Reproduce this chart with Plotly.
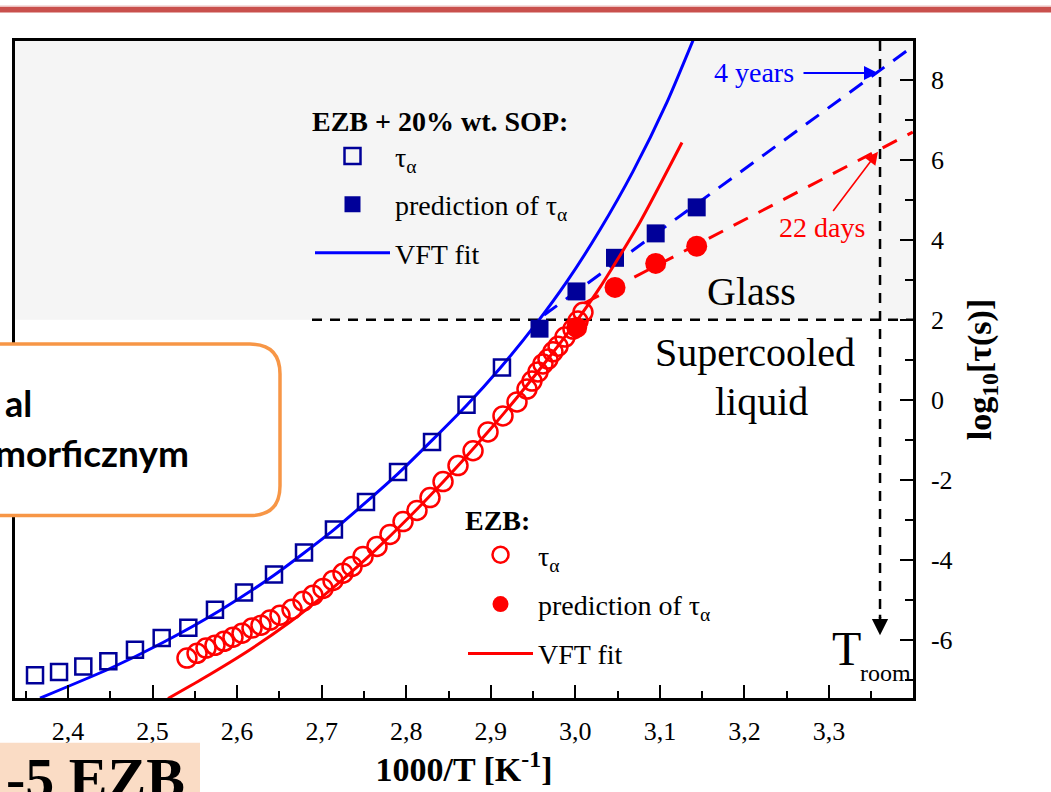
import plotly.graph_objects as go

# ---------------- data ----------------
# EZB + 20% wt. SOP
sop_tau_x = [2.361, 2.3894, 2.4181, 2.4477, 2.4792, 2.5108, 2.5423, 2.5738, 2.6081,
             2.6436, 2.6791, 2.7145, 2.7524, 2.7903, 2.8305, 2.8713, 2.9132]
sop_tau_y = [-6.88, -6.80, -6.66, -6.53, -6.24, -5.95, -5.69, -5.24, -4.81,
             -4.36, -3.81, -3.24, -2.55, -1.80, -1.05, -0.12, 0.81]
sop_pred_x = [2.9576, 3.0013, 3.0469, 3.0950, 3.1435]
sop_pred_y = [1.78, 2.71, 3.55, 4.16, 4.81]
sop_vft_x = [2.3669, 2.4497, 2.5123, 2.5797, 2.6436, 2.7146, 2.7903, 2.8707,
             2.9109, 2.9546, 2.9901, 3.0291, 3.0682, 3.1084, 3.1403]
sop_vft_y = [-7.45, -6.71, -6.06, -5.26, -4.38, -3.24, -1.84, -0.15,
             0.79, 1.93, 2.96, 4.25, 5.71, 7.44, 9.04]
sop_extrap_x = [2.963, 3.399]
sop_extrap_y = [2.12, 8.83]

# EZB
ezb_tau_x = [2.5407, 2.5526, 2.5632, 2.5738, 2.5845, 2.5951, 2.6058, 2.6176, 2.6282,
             2.6389, 2.6507, 2.6649, 2.6779, 2.6897, 2.7016, 2.7134, 2.7252, 2.7359,
             2.7489, 2.7654, 2.7808, 2.7962, 2.8127, 2.8281, 2.8435, 2.8612, 2.8790,
             2.8967, 2.9144, 2.9310, 2.9428, 2.9487, 2.9558, 2.9617, 2.9676, 2.9735,
             2.9795, 2.9877, 2.9972, 3.0031, 3.0090]
ezb_tau_y = [-6.45, -6.33, -6.20, -6.13, -6.03, -5.93, -5.83, -5.70, -5.63,
             -5.50, -5.38, -5.23, -5.03, -4.88, -4.71, -4.51, -4.33, -4.16,
             -3.91, -3.66, -3.36, -3.04, -2.76, -2.44, -2.04, -1.64, -1.27,
             -0.80, -0.40, -0.05, 0.27, 0.47, 0.70, 0.90, 1.02, 1.20,
             1.34, 1.57, 1.77, 1.97, 2.19]
ezb_pred_x = [3.0016, 3.0469, 3.0950, 3.1435]
ezb_pred_y = [1.81, 2.81, 3.41, 3.84]
ezb_vft_x = [2.5183, 2.5596, 2.6152, 2.6625, 2.7016, 2.7335, 2.7725, 2.8127, 2.8435,
             2.8671, 2.8991, 2.9310, 2.9700, 3.0031, 3.0291, 3.0764, 3.1261]
ezb_vft_y = [-7.46, -6.96, -6.24, -5.55, -4.90, -4.33, -3.57, -2.73, -2.05,
             -1.51, -0.74, 0.06, 1.09, 2.02, 2.81, 4.44, 6.43]
ezb_extrap_x = [3.011, 3.399]
ezb_extrap_y = [2.42, 6.69]

x_tickvals = [2.4, 2.5, 2.6, 2.7, 2.8, 2.9, 3.0, 3.1, 3.2, 3.3]
x_ticktext = ["2,4", "2,5", "2,6", "2,7", "2,8", "2,9", "3,0", "3,1", "3,2", "3,3"]
y_tickvals = [-6, -4, -2, 0, 2, 4, 6, 8]
y_ticktext = ["-6", "-4", "-2", "0", "2", "4", "6", "8"]

glass_level = 2          # log10(tau) = 2 boundary
t_room_x = 3.3603        # 1000/T at room temperature

# ---------------- styling / geometry helpers ----------------
SERIF = "Liberation Serif, Times New Roman, serif"
BLUE = "#0000ff"
NAVY = "#000099"
RED = "#ff0000"

W, H = 1051, 792
ML, MR, MT, MB = 15, 138, 41, 92
PL, PR, PT, PB = ML, W - MR, MT, H - MB


def px2x(px):
    return 2.4 + (px - 68) / 845.6


def py2y(py):
    return (401 - py) / 40.15


def ppx(px):
    return (px - PL) / (PR - PL)


def ppy(py):
    return (PB - py) / (PB - PT)


x_range = [px2x(PL), px2x(PR)]
y_range = [py2y(PB), py2y(PT)]

fig = go.Figure()

# ---- SOP traces ----
fig.add_trace(go.Scatter(x=sop_vft_x, y=sop_vft_y, mode="lines", name="VFT fit",
                         line=dict(color=BLUE, width=3, shape="spline", smoothing=0.6),
                         legend="legend", legendgroup="s3", legendrank=3))
fig.add_trace(go.Scatter(x=sop_extrap_x, y=sop_extrap_y, mode="lines", showlegend=False,
                         line=dict(color=BLUE, width=3, dash="16px,11px")))
fig.add_trace(go.Scatter(x=sop_tau_x, y=sop_tau_y, mode="markers", name="τ<sub>α</sub>",
                         marker=dict(symbol="square-open", size=16, color=NAVY,
                                     line=dict(width=2.5, color=NAVY)),
                         legend="legend", legendgroup="s1", legendrank=1))
fig.add_trace(go.Scatter(x=sop_pred_x, y=sop_pred_y, mode="markers",
                         name="prediction of τ<sub>α</sub>",
                         marker=dict(symbol="square", size=18, color=NAVY),
                         legend="legend", legendgroup="s2", legendrank=2))

# ---- EZB traces ----
fig.add_trace(go.Scatter(x=ezb_vft_x, y=ezb_vft_y, mode="lines", name="VFT fit",
                         line=dict(color=RED, width=3, shape="spline", smoothing=0.6),
                         legend="legend2", legendgroup="e3", legendrank=3))
fig.add_trace(go.Scatter(x=ezb_extrap_x, y=ezb_extrap_y, mode="lines", showlegend=False,
                         line=dict(color=RED, width=3, dash="16px,12px")))
fig.add_trace(go.Scatter(x=ezb_tau_x, y=ezb_tau_y, mode="markers", name="τ<sub>α</sub>",
                         marker=dict(symbol="circle-open", size=19, color=RED,
                                     line=dict(width=2.5, color=RED)),
                         legend="legend2", legendgroup="e1", legendrank=1))
fig.add_trace(go.Scatter(x=ezb_pred_x, y=ezb_pred_y, mode="markers",
                         name="prediction of τ<sub>α</sub>",
                         marker=dict(symbol="circle", size=21, color=RED),
                         legend="legend2", legendgroup="e2", legendrank=2))

shapes = []
# glass region background
shapes.append(dict(type="rect", xref="paper", yref="y", x0=0, x1=1, y0=glass_level,
                   y1=y_range[1], fillcolor="#f5f5f5", line=dict(width=0), layer="below"))
# horizontal dashed at log tau = 2
shapes.append(dict(type="line", xref="x", yref="y", x0=px2x(312), x1=x_range[1],
                   y0=glass_level, y1=glass_level,
                   line=dict(color="black", width=2.5, dash="10px,8px"), layer="below"))
# vertical dashed at room temperature
shapes.append(dict(type="line", xref="x", yref="y", x0=t_room_x, x1=t_room_x,
                   y0=y_range[1], y1=py2y(620),
                   line=dict(color="black", width=2.5, dash="10px,8px"), layer="below"))

# ---- slide decorations (paper coordinates) ----
shapes.append(dict(type="rect", xref="paper", yref="paper", x0=ppx(-5), x1=ppx(W + 5),
                   y0=ppy(12.5), y1=ppy(7), fillcolor="#c9504d", line=dict(width=0),
                   layer="above"))
shapes.append(dict(type="rect", xref="paper", yref="paper", x0=ppx(-5), x1=ppx(W + 5),
                   y0=ppy(7), y1=ppy(5.5), fillcolor="#ecc0bf", line=dict(width=0),
                   layer="above"))

bx0, bx1, by0, by1, r = -60, 280, 345, 517, 30


def P(px, py):
    return f"{ppx(px):.5f},{ppy(py):.5f}"


box_path = ("M " + P(bx0, by0) + " L " + P(bx1 - r, by0) +
            " Q " + P(bx1, by0) + " " + P(bx1, by0 + r) +
            " L " + P(bx1, by1 - r) +
            " Q " + P(bx1, by1) + " " + P(bx1 - r, by1) +
            " L " + P(bx0, by1) + " Z")
shapes.append(dict(type="path", xref="paper", yref="paper", path=box_path,
                   fillcolor="white", line=dict(color="#f79646", width=3.5), layer="above"))

shapes.append(dict(type="rect", xref="paper", yref="paper", x0=ppx(-5), x1=ppx(200),
                   y0=ppy(800), y1=ppy(745), fillcolor="#fadcc5", line=dict(width=0),
                   layer="above"))

fig.update_layout(shapes=shapes)

ann = []


def text(px, py, s, size, color="black", family=SERIF, xanchor="center", yanchor="middle"):
    ann.append(dict(xref="x", yref="y", x=px2x(px), y=py2y(py), text=s, showarrow=False,
                    font=dict(family=family, size=size, color=color),
                    xanchor=xanchor, yanchor=yanchor))


text(751, 292, "Glass", 40)
text(755, 353, "Supercooled", 40)
text(761, 403, "liquid", 40)
text(754, 73, "4 years", 28, BLUE)
text(822, 228, "22 days", 28, RED)
text(846, 650, "T", 48)
text(885, 675, "room", 24)

ann.append(dict(xref="x", yref="y", axref="x", ayref="y",
                x=px2x(878), y=py2y(73), ax=px2x(802), ay=py2y(73), text="",
                showarrow=True, arrowhead=2, arrowsize=1.4, arrowwidth=2, arrowcolor=BLUE))
ann.append(dict(xref="x", yref="y", axref="x", ayref="y",
                x=px2x(878), y=py2y(152), ax=px2x(832), ay=py2y(213), text="",
                showarrow=True, arrowhead=2, arrowsize=1.6, arrowwidth=1.6, arrowcolor=RED))
ann.append(dict(xref="x", yref="y", axref="x", ayref="y",
                x=t_room_x, y=py2y(637), ax=t_room_x, ay=py2y(615), text="",
                showarrow=True, arrowhead=2, arrowsize=1.3, arrowwidth=2.5, arrowcolor="black"))

GOTH = "Lato, Noto Sans, sans-serif"
ann.append(dict(xref="paper", yref="paper", x=ppx(34), y=ppy(404), text="<b>al</b>",
                showarrow=False, xanchor="right", yanchor="middle",
                font=dict(family=GOTH, size=36, color="black")))
ann.append(dict(xref="paper", yref="paper", x=ppx(191), y=ppy(454), text="<b>morficznym</b>",
                showarrow=False, xanchor="right", yanchor="middle",
                font=dict(family=GOTH, size=37, color="black")))
ann.append(dict(xref="paper", yref="paper", x=ppx(4), y=ppy(746), text="<b>-5 EZB</b>",
                showarrow=False, xanchor="left", yanchor="top",
                font=dict(family=SERIF, size=58, color="black")))

fig.update_layout(annotations=ann)

fig.update_layout(
    width=W, height=H,
    margin=dict(l=ML, r=MR, t=MT, b=MB, pad=0),
    paper_bgcolor="white", plot_bgcolor="white",
    font=dict(family=SERIF, size=26, color="black"),
    legend=dict(x=ppx(310), y=ppy(95), xanchor="left", yanchor="top",
                bgcolor="rgba(0,0,0,0)", traceorder="grouped", tracegroupgap=9,
                itemwidth=75,
                font=dict(family=SERIF, size=28, color="black"),
                title=dict(text="<b>EZB + 20% wt. SOP:</b>",
                           font=dict(family=SERIF, size=28, color="black"))),
    legend2=dict(x=ppx(463), y=ppy(495), xanchor="left", yanchor="top",
                 bgcolor="rgba(0,0,0,0)", traceorder="grouped", tracegroupgap=10,
                 itemwidth=65,
                 font=dict(family=SERIF, size=28, color="black"),
                 title=dict(text="<b>EZB:</b>",
                            font=dict(family=SERIF, size=28, color="black"))),
    xaxis=dict(range=x_range, tickmode="array", tickvals=x_tickvals, ticktext=x_ticktext,
               ticks="inside", ticklen=13, tickwidth=2, tickcolor="black",
               showline=True, linewidth=2.5, linecolor="black", mirror=True,
               showgrid=False, zeroline=False, ticklabelstandoff=8,
               tickfont=dict(family=SERIF, size=26, color="black"),
               minor=dict(tickmode="linear", tick0=2.35, dtick=0.1, ticks="inside",
                          ticklen=7, tickwidth=2, tickcolor="black", showgrid=False),
               title=dict(text="<b>1000/T [K<sup>-1</sup>]</b>", standoff=10,
                          font=dict(family=SERIF, size=34, color="black"))),
    yaxis=dict(range=y_range, side="right", tickmode="array", tickvals=y_tickvals,
               ticktext=y_ticktext, ticks="inside", ticklen=13, tickwidth=2,
               tickcolor="black", showline=True, linewidth=2.5, linecolor="black",
               mirror=True, showgrid=False, zeroline=False, ticklabelstandoff=10,
               tickfont=dict(family=SERIF, size=26, color="black"),
               minor=dict(tickmode="linear", tick0=-7, dtick=2, ticks="inside",
                          ticklen=8, tickwidth=2, tickcolor="black", showgrid=False),
               title=dict(text="<b>log<sub>10</sub>[τ(s)]</b>", standoff=16,
                          font=dict(family=SERIF, size=34, color="black"))),
)

fig.write_html("out.html")
